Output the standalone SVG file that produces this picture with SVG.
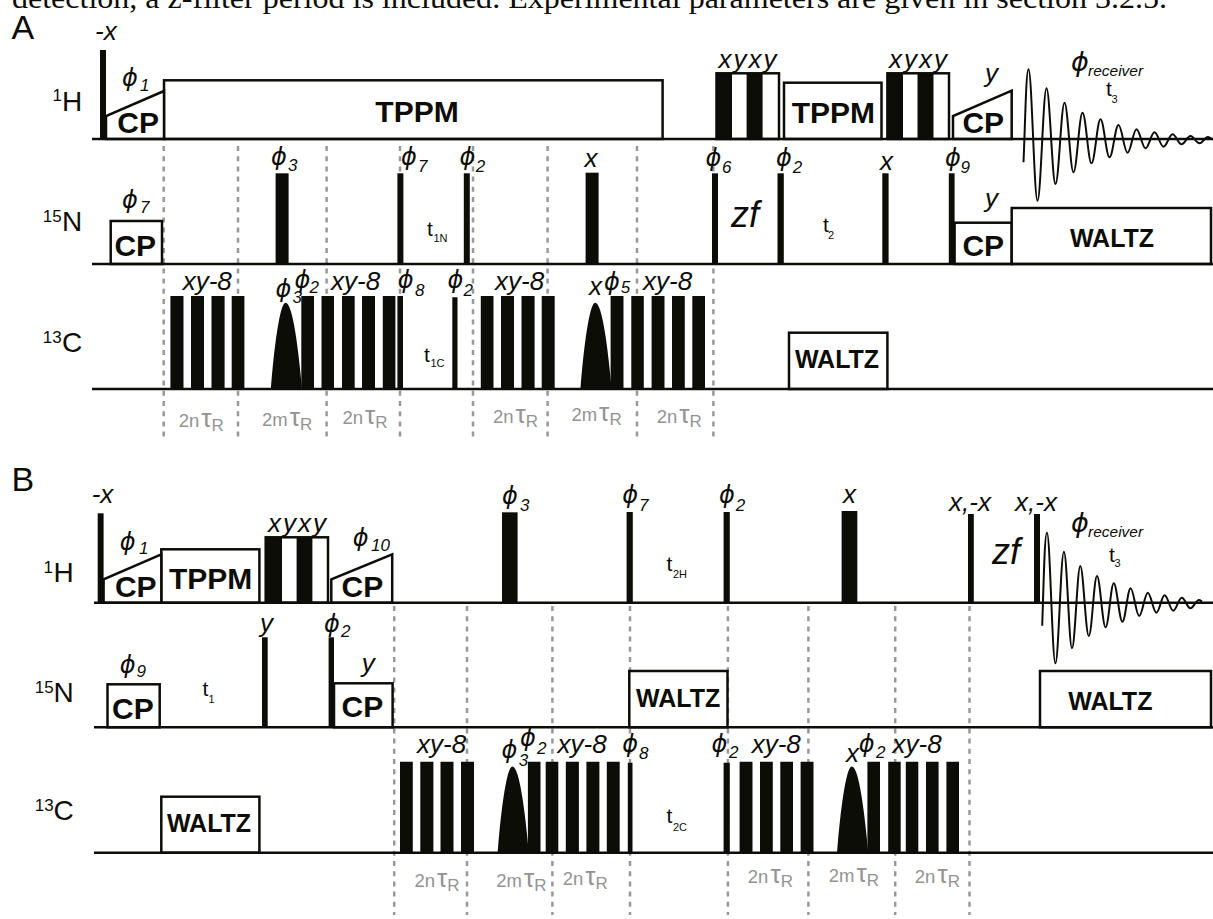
<svg xmlns="http://www.w3.org/2000/svg" width="1213" height="919" viewBox="0 0 1213 919">
<style>
text{font-family:"Liberation Sans",Arial,sans-serif;fill:#0d0d08}
.i{font-style:italic;font-size:26px}
.p{font-family:"DejaVu Sans","Liberation Sans",sans-serif;font-style:italic;font-size:24px}
.s{font-style:italic;font-size:17px;font-family:"Liberation Sans",sans-serif}
.b{font-weight:bold;font-size:30px;text-anchor:middle}
.w{font-weight:bold;font-size:25px;text-anchor:middle}
.n{font-size:28px}
.u{font-size:17px}
.t{font-size:21px}
.ts{font-size:11px}
text.g{fill:#939393;font-size:18.500px}
.tau{font-size:26px}
.r{font-size:17px}
.base{stroke:#0d0d08;stroke-width:2.6;fill:none}
.box{fill:#fff;stroke:#0d0d08;stroke-width:2.5}
.bar{fill:#0d0d08}
.dash{stroke:#999;stroke-width:2.500;stroke-dasharray:5 5.200;fill:none}
.fid{fill:none;stroke:#0d0d08;stroke-width:2}
</style>
<defs>
<path id="shape" class="bar" d="M0 0C3 -40 9 -86.300 14.700 -86.300C22 -86.300 27.500 -40 31.200 0Z"/>
</defs>
<rect width="1213" height="919" fill="#fff"/>
<text x="12" y="8" style="font-family:'Liberation Serif',serif;font-size:29.500px" textLength="1155" lengthAdjust="spacingAndGlyphs">detection, a z-filter period is included. Experimental parameters are given in section 3.2.5.</text>

<g id="connectors">
<path class="dash" d="M163.700 146V436.700M238 146V436.700M326.600 146V436.700M400 146V436.700M473 146V436.700M547.600 146V436.700M637 146V436.700M713.400 146V436.700"/>
<path class="dash" d="M394.200 606V915M467 606V915M552.400 606V915M630 606V915M727.900 606V915M808.400 606V915M895.200 606V915M969.500 606V915"/>
</g>

<g id="panel-A">
<text x="11.500" y="39.300" style="font-size:34px">A</text>
<g id="A-1H">
<text class="u" x="52.500" y="101">1</text><text class="n" x="62" y="111">H</text>
<rect class="box" x="164" y="80.300" width="498.600" height="58.700"/>
<rect class="box" x="784" y="82.700" width="97.500" height="56.300"/>
<rect class="box" x="716.500" y="73.300" width="62.500" height="65.700"/>
<rect class="bar" x="716.500" y="73.300" width="15.500" height="65.700"/><rect class="bar" x="746.600" y="73.300" width="16" height="65.700"/>
<rect class="box" x="887.400" y="73.300" width="61.600" height="65.700"/>
<rect class="bar" x="887.400" y="73.300" width="15.600" height="65.700"/><rect class="bar" x="917.500" y="73.300" width="16" height="65.700"/>
<path class="box" d="M106 139V116L164 91V139Z"/>
<path class="box" d="M953 139V116L1011.700 90.700V139Z"/>
<rect class="bar" x="100" y="50" width="6" height="89"/>
<path class="base" d="M92 139H1213"/>
<path class="fid" d="M1023.500 162.300C1025 130 1026 69.300 1028.500 69.300C1031.800 69.300 1034.200 200.700 1037.500 200.700C1040.800 200.700 1043.200 88.300 1046.500 88.300C1049.800 88.300 1052.200 184 1055.500 184C1058.800 184 1061.200 102.700 1064.500 102.700C1067.800 102.700 1070.200 172.300 1073.500 172.300C1076.800 172.300 1079.200 112.700 1082.500 112.700C1085.800 112.700 1088.200 163.300 1091.500 163.300C1094.800 163.300 1097.200 119.300 1100.500 119.300C1103.800 119.300 1106.200 157.300 1109.500 157.300C1112.800 157.300 1115.200 125 1118.500 125C1121.800 125 1124.200 152.700 1127.500 152.700C1130.800 152.700 1133.200 129.300 1136.500 129.300C1139.800 129.300 1142.200 148.300 1145.500 148.300C1148.800 148.300 1151.200 132.300 1154.500 132.300C1157.800 132.300 1160.200 146.700 1163.500 146.700C1166.800 146.700 1169.200 134.300 1172.500 134.300C1175.800 134.300 1178.200 144.300 1181.500 144.300C1184.800 144.300 1187.200 136 1190.500 136C1193.800 136 1196.200 143.300 1199.500 143.300C1202.800 143.300 1204.800 137 1208 137C1210 137 1211.500 139 1213 139.500"/>
<text class="i" x="95" y="39.500">-x</text>
<text class="p" x="122" y="86">ϕ<tspan class="s" x="140" y="91">1</tspan></text>
<text class="b" x="417" y="121.700">TPPM</text>
<text class="b" x="138.200" y="133">CP</text>
<text class="i" x="718.500" y="68.300" letter-spacing="2">xyxy</text>
<text class="b" x="833.300" y="123.300">TPPM</text>
<text class="i" x="889" y="68.300" letter-spacing="2">xyxy</text>
<text class="i" x="985" y="81.700">y</text>
<text class="b" x="983.300" y="133.300">CP</text>
<text class="p" x="1071" y="70.700" style="font-size:27px">ϕ<tspan class="s" x="1088" y="76" style="font-size:15.500px">receiver</tspan></text>
<text class="t" x="1106" y="96">t<tspan class="ts" x="1111.400" y="103">3</tspan></text>
</g>
<g id="A-15N">
<text class="u" x="42.700" y="221.500">15</text><text class="n" x="62" y="231">N</text>
<rect class="box" x="110.700" y="221" width="51.300" height="43"/>
<rect class="bar" x="275.600" y="173.300" width="13" height="90.700"/>
<rect class="bar" x="397.400" y="173.300" width="6" height="90.700"/>
<rect class="bar" x="463.800" y="173.300" width="6" height="90.700"/>
<rect class="bar" x="585.600" y="172.700" width="13" height="91.300"/>
<rect class="bar" x="712" y="173.300" width="6" height="90.700"/>
<rect class="bar" x="777.500" y="173.300" width="6.300" height="90.700"/>
<rect class="bar" x="882.300" y="173.300" width="6.300" height="90.700"/>
<rect class="bar" x="948.800" y="173.300" width="5.800" height="90.700"/>
<rect class="box" x="954.600" y="222.700" width="57.100" height="41.300"/>
<rect class="box" x="1011.700" y="208" width="199.300" height="56"/>
<path class="base" d="M92 264H1213"/>
<text class="p" x="122" y="208">ϕ<tspan class="s" x="140" y="213">7</tspan></text>
<text class="b" x="135.300" y="256">CP</text>
<text class="p" x="271" y="165">ϕ<tspan class="s" x="288" y="171">3</tspan></text>
<text class="p" x="401" y="165">ϕ<tspan class="s" x="418" y="172">7</tspan></text>
<text class="p" x="459.500" y="165">ϕ<tspan class="s" x="475.700" y="172">2</tspan></text>
<text class="i" x="584.400" y="166.700">x</text>
<text class="p" x="705.600" y="166">ϕ<tspan class="s" x="722" y="172.700">6</tspan></text>
<text class="p" x="776" y="166">ϕ<tspan class="s" x="792.800" y="172.700">2</tspan></text>
<text class="i" x="880" y="170">x</text>
<text class="p" x="945" y="166">ϕ<tspan class="s" x="960.500" y="172.700">9</tspan></text>
<text class="i" x="731" y="226.700" style="font-size:36px">zf</text>
<text class="t" x="822.900" y="231.700">t<tspan class="ts" x="828" y="239.300">2</tspan></text>
<text class="t" x="427" y="236">t<tspan class="ts" x="433.500" y="242.300">1N</tspan></text>
<text class="i" x="985" y="206.700">y</text>
<text class="b" x="983.300" y="256">CP</text>
<text class="w" x="1112" y="246.700">WALTZ</text>
</g>
<g id="A-13C">
<text class="u" x="42.700" y="342.700">13</text><text class="n" x="62" y="351.500">C</text>
<path class="bar" d="M170.400 296h13.100v93h-13.100zM191 296h13v93h-13zM211.500 296h13.100v93h-13.100zM231.700 296h12.700v93h-12.700zM301.300 296h12.700v93h-12.700zM321.500 296h12.500v93h-12.500zM342 296h12.700v93h-12.700zM362 296h13v93h-13zM382.800 296h12.600v93h-12.600zM397.400 296h5.600v93h-5.600zM452.300 297.300h5.200v91.700h-5.200zM480.800 296h12.700v93h-12.700zM501 296h13v93h-13zM521.500 296h13.100v93h-13.100zM541.700 296h13v93h-13zM610.600 296h12.900v93h-12.900zM631.300 296h12.500v93h-12.500zM651.600 296h12.900v93h-12.900zM672 296h12.800v93h-12.800zM692.300 296h12.700v93h-12.700z"/>
<use href="#shape" x="270.800" y="389"/><use href="#shape" x="580.400" y="389"/>
<rect class="box" x="789" y="332.700" width="98.400" height="56.300"/>
<path class="base" d="M92 389H1213"/>
<text class="i" x="182.700" y="290">xy-8</text>
<text class="i" x="331" y="290">xy-8</text>
<text class="i" x="495" y="290">xy-8</text>
<text class="i" x="643" y="290">xy-8</text>
<text class="p" x="275.600" y="297">ϕ<tspan class="s" x="292.600" y="303">3</tspan></text>
<text class="p" x="294.600" y="288.300">ϕ<tspan class="s" x="309.600" y="293">2</tspan></text>
<text class="p" x="397.800" y="288.300">ϕ<tspan class="s" x="415" y="296">8</tspan></text>
<text class="p" x="447.600" y="288.300">ϕ<tspan class="s" x="463.400" y="296">2</tspan></text>
<text class="i" x="589" y="295">x</text>
<text class="p" x="604" y="290">ϕ<tspan class="s" x="620.700" y="293.300">5</tspan></text>
<text class="t" x="424" y="361.700">t<tspan class="ts" x="430.500" y="366.700">1C</tspan></text>
<text class="w" x="837" y="368.300">WALTZ</text>
</g>
<g id="A-delays">
<text class="g" x="178.700" y="426.700">2n<tspan class="tau" dx="2">τ</tspan><tspan class="r" dy="4">R</tspan></text>
<text class="g" x="262" y="426">2m<tspan class="tau" dx="2">τ</tspan><tspan class="r" dy="4">R</tspan></text>
<text class="g" x="342.400" y="424">2n<tspan class="tau" dx="2">τ</tspan><tspan class="r" dy="4">R</tspan></text>
<text class="g" x="493" y="422.700">2n<tspan class="tau" dx="2">τ</tspan><tspan class="r" dy="4">R</tspan></text>
<text class="g" x="571.400" y="420.700">2m<tspan class="tau" dx="2">τ</tspan><tspan class="r" dy="4">R</tspan></text>
<text class="g" x="656.700" y="422.700">2n<tspan class="tau" dx="2">τ</tspan><tspan class="r" dy="4">R</tspan></text>
</g>
</g>

<g id="panel-B">
<text x="11.500" y="490.700" style="font-size:34px">B</text>
<g id="B-1H">
<text class="u" x="43.500" y="572.700">1</text><text class="n" x="53.400" y="582.300">H</text>
<rect class="box" x="161.300" y="549.300" width="98.100" height="53.400"/>
<rect class="box" x="265.700" y="537.300" width="62.300" height="65.400"/>
<rect class="bar" x="265.700" y="537.300" width="16.300" height="65.400"/><rect class="bar" x="296.600" y="537.300" width="15.800" height="65.400"/>
<path class="box" d="M103.600 602.700V579.300L161.300 554.300V602.700Z"/>
<path class="box" d="M331.300 602.700V579.300L392.200 554.300V602.700Z"/>
<rect class="bar" x="97.700" y="513.300" width="5.900" height="89.400"/>
<rect class="bar" x="502" y="512.300" width="15.600" height="90.400"/>
<rect class="bar" x="626.600" y="512" width="6.200" height="90.700"/>
<rect class="bar" x="723.600" y="512" width="6.200" height="90.700"/>
<rect class="bar" x="841.600" y="511" width="15.700" height="91.700"/>
<rect class="bar" x="968" y="514" width="5.800" height="88.700"/>
<rect class="bar" x="1034" y="514" width="6" height="88.700"/>
<path class="base" d="M94 602.700H1213"/>
<path class="fid" d="M1042.200 625.700C1043.500 590 1044.500 532.700 1047 532.700C1050 532.700 1052.300 663.300 1055.400 663.300C1058.500 663.300 1060.800 551.700 1063.900 551.700C1067 551.700 1069 648.300 1072 648.300C1075 648.300 1077.300 566 1080.300 566C1083.300 566 1085.700 636 1088.800 636C1091.800 636 1094 576 1097 576C1100 576 1102.500 627.300 1105.600 627.300C1108.600 627.300 1110.800 583.300 1113.800 583.300C1116.800 583.300 1119.300 621.700 1122.400 621.700C1125.400 621.700 1127.600 588.300 1130.600 588.300C1133.600 588.300 1136.100 616 1139.200 616C1142.300 616 1144.700 592.700 1147.800 592.700C1150.900 592.700 1153.300 612.700 1156.400 612.700C1159.400 612.700 1161.600 595.300 1164.600 595.300C1167.700 595.300 1170.100 610.700 1173.200 610.700C1176.300 610.700 1178.700 597.700 1181.800 597.700C1184.900 597.700 1187.300 608.300 1190.400 608.300C1193.500 608.300 1195.900 600 1199 600C1200.200 600 1201 601 1202 601.700"/>
<text class="i" x="91.700" y="503.300">-x</text>
<text class="p" x="119.800" y="550">ϕ<tspan class="s" x="139" y="554">1</tspan></text>
<text class="b" x="135.800" y="597.300">CP</text>
<text class="b" x="210.600" y="589.300">TPPM</text>
<text class="i" x="268" y="532.300" letter-spacing="2">xyxy</text>
<text class="p" x="352.700" y="546">ϕ<tspan class="s" x="371" y="551">10</tspan></text>
<text class="b" x="362.400" y="597.300">CP</text>
<text class="p" x="502" y="504.300">ϕ<tspan class="s" x="520" y="511">3</tspan></text>
<text class="p" x="622.300" y="503.300">ϕ<tspan class="s" x="639" y="511">7</tspan></text>
<text class="p" x="719" y="503.300">ϕ<tspan class="s" x="735.700" y="511">2</tspan></text>
<text class="i" x="843" y="503.300">x</text>
<text class="i" x="949" y="510.700">x,-x</text>
<text class="i" x="1015" y="510.700">x,-x</text>
<text class="i" x="992" y="564" style="font-size:36px">zf</text>
<text class="p" x="1071" y="531.700" style="font-size:27px">ϕ<tspan class="s" x="1088" y="536.700" style="font-size:15.500px">receiver</tspan></text>
<text class="t" x="1109" y="561.700">t<tspan class="ts" x="1114.500" y="567">3</tspan></text>
<text class="t" x="666.500" y="571">t<tspan class="ts" x="673" y="578.300">2H</tspan></text>
</g>
<g id="B-15N">
<text class="u" x="34.800" y="693">15</text><text class="n" x="53.400" y="701.700">N</text>
<rect class="box" x="107.500" y="684.300" width="52.200" height="43"/>
<rect class="bar" x="262" y="637.300" width="5.700" height="90"/>
<rect class="bar" x="328.600" y="637.300" width="5.400" height="90"/>
<rect class="box" x="334" y="683.300" width="58.600" height="44"/>
<rect class="box" x="629.300" y="671" width="98.200" height="56.300"/>
<rect class="box" x="1040" y="671" width="171" height="56.300"/>
<path class="base" d="M94 727.300H1213"/>
<text class="p" x="119.800" y="672.700">ϕ<tspan class="s" x="136.400" y="677.300">9</tspan></text>
<text class="b" x="132.900" y="719">CP</text>
<text class="t" x="202.400" y="696">t<tspan class="ts" x="208.400" y="702.700">1</tspan></text>
<text class="i" x="260" y="631.700">y</text>
<text class="p" x="324" y="631.700">ϕ<tspan class="s" x="341" y="636.700">2</tspan></text>
<text class="i" x="361.800" y="671.700">y</text>
<text class="b" x="362.400" y="716.700">CP</text>
<text class="w" x="678.200" y="707.300">WALTZ</text>
<text class="w" x="1110.300" y="710">WALTZ</text>
</g>
<g id="B-13C">
<text class="u" x="34.800" y="810.700">13</text><text class="n" x="53.400" y="820">C</text>
<path class="bar" d="M400 761.700h12.800v91h-12.800zM420.300 761.700h13.100v91h-13.100zM440.500 761.700h13v91h-13zM461 761.700h13v91h-13zM527.900 761.700h12.600v91h-12.600zM545.700 761.700h12.600v91h-12.600zM565.800 761.700h13.100v91h-13.100zM586.400 761.700h13v91h-13zM606.800 761.700h12.900v91h-12.900zM627.800 762.700h4.700v90h-4.700zM723.600 762.700h6.200v90h-6.200zM739.600 761.700h12.900v91h-12.900zM760 761.700h12.800v91h-12.800zM780.300 761.700h12.700v91h-12.700zM800.600 761.700h12.900v91h-12.900zM867.400 761.700h12.600v91h-12.600zM888.200 761.700h12.500v91h-12.500zM905.800 761.700h12.500v91h-12.500zM926 761.700h12.600v91h-12.600zM946.400 761.700h12.600v91h-12.600z"/>
<use href="#shape" x="497.600" y="852.700"/><use href="#shape" x="837" y="852.700"/>
<rect class="box" x="161.300" y="796.700" width="98.100" height="56"/>
<path class="base" d="M94 852.700H1213"/>
<text class="w" x="209" y="832.300">WALTZ</text>
<text class="i" x="417" y="753.300">xy-8</text>
<text class="i" x="557.500" y="753.300">xy-8</text>
<text class="i" x="751.700" y="752.700">xy-8</text>
<text class="i" x="892.500" y="752.700">xy-8</text>
<text class="p" x="501.400" y="758.300">ϕ<tspan class="s" x="518.800" y="766">3</tspan></text>
<text class="p" x="520" y="746">ϕ<tspan class="s" x="537" y="754">2</tspan></text>
<text class="p" x="622.300" y="751.700">ϕ<tspan class="s" x="639" y="759">8</tspan></text>
<text class="p" x="711.400" y="751.700">ϕ<tspan class="s" x="729" y="758.300">2</tspan></text>
<text class="i" x="846" y="761.700">x</text>
<text class="p" x="858.800" y="751.700">ϕ<tspan class="s" x="876" y="758.300">2</tspan></text>
<text class="t" x="666.500" y="823.300">t<tspan class="ts" x="673" y="830.700">2C</tspan></text>
</g>
<g id="B-delays">
<text class="g" x="414.400" y="886.700">2n<tspan class="tau" dx="2">τ</tspan><tspan class="r" dy="4">R</tspan></text>
<text class="g" x="496.200" y="886.700">2m<tspan class="tau" dx="2">τ</tspan><tspan class="r" dy="4">R</tspan></text>
<text class="g" x="562.700" y="885">2n<tspan class="tau" dx="2">τ</tspan><tspan class="r" dy="4">R</tspan></text>
<text class="g" x="747.800" y="883.300">2n<tspan class="tau" dx="2">τ</tspan><tspan class="r" dy="4">R</tspan></text>
<text class="g" x="828.700" y="881.700">2m<tspan class="tau" dx="2">τ</tspan><tspan class="r" dy="4">R</tspan></text>
<text class="g" x="914.800" y="883.300">2n<tspan class="tau" dx="2">τ</tspan><tspan class="r" dy="4">R</tspan></text>
</g>
</g>
</svg>
